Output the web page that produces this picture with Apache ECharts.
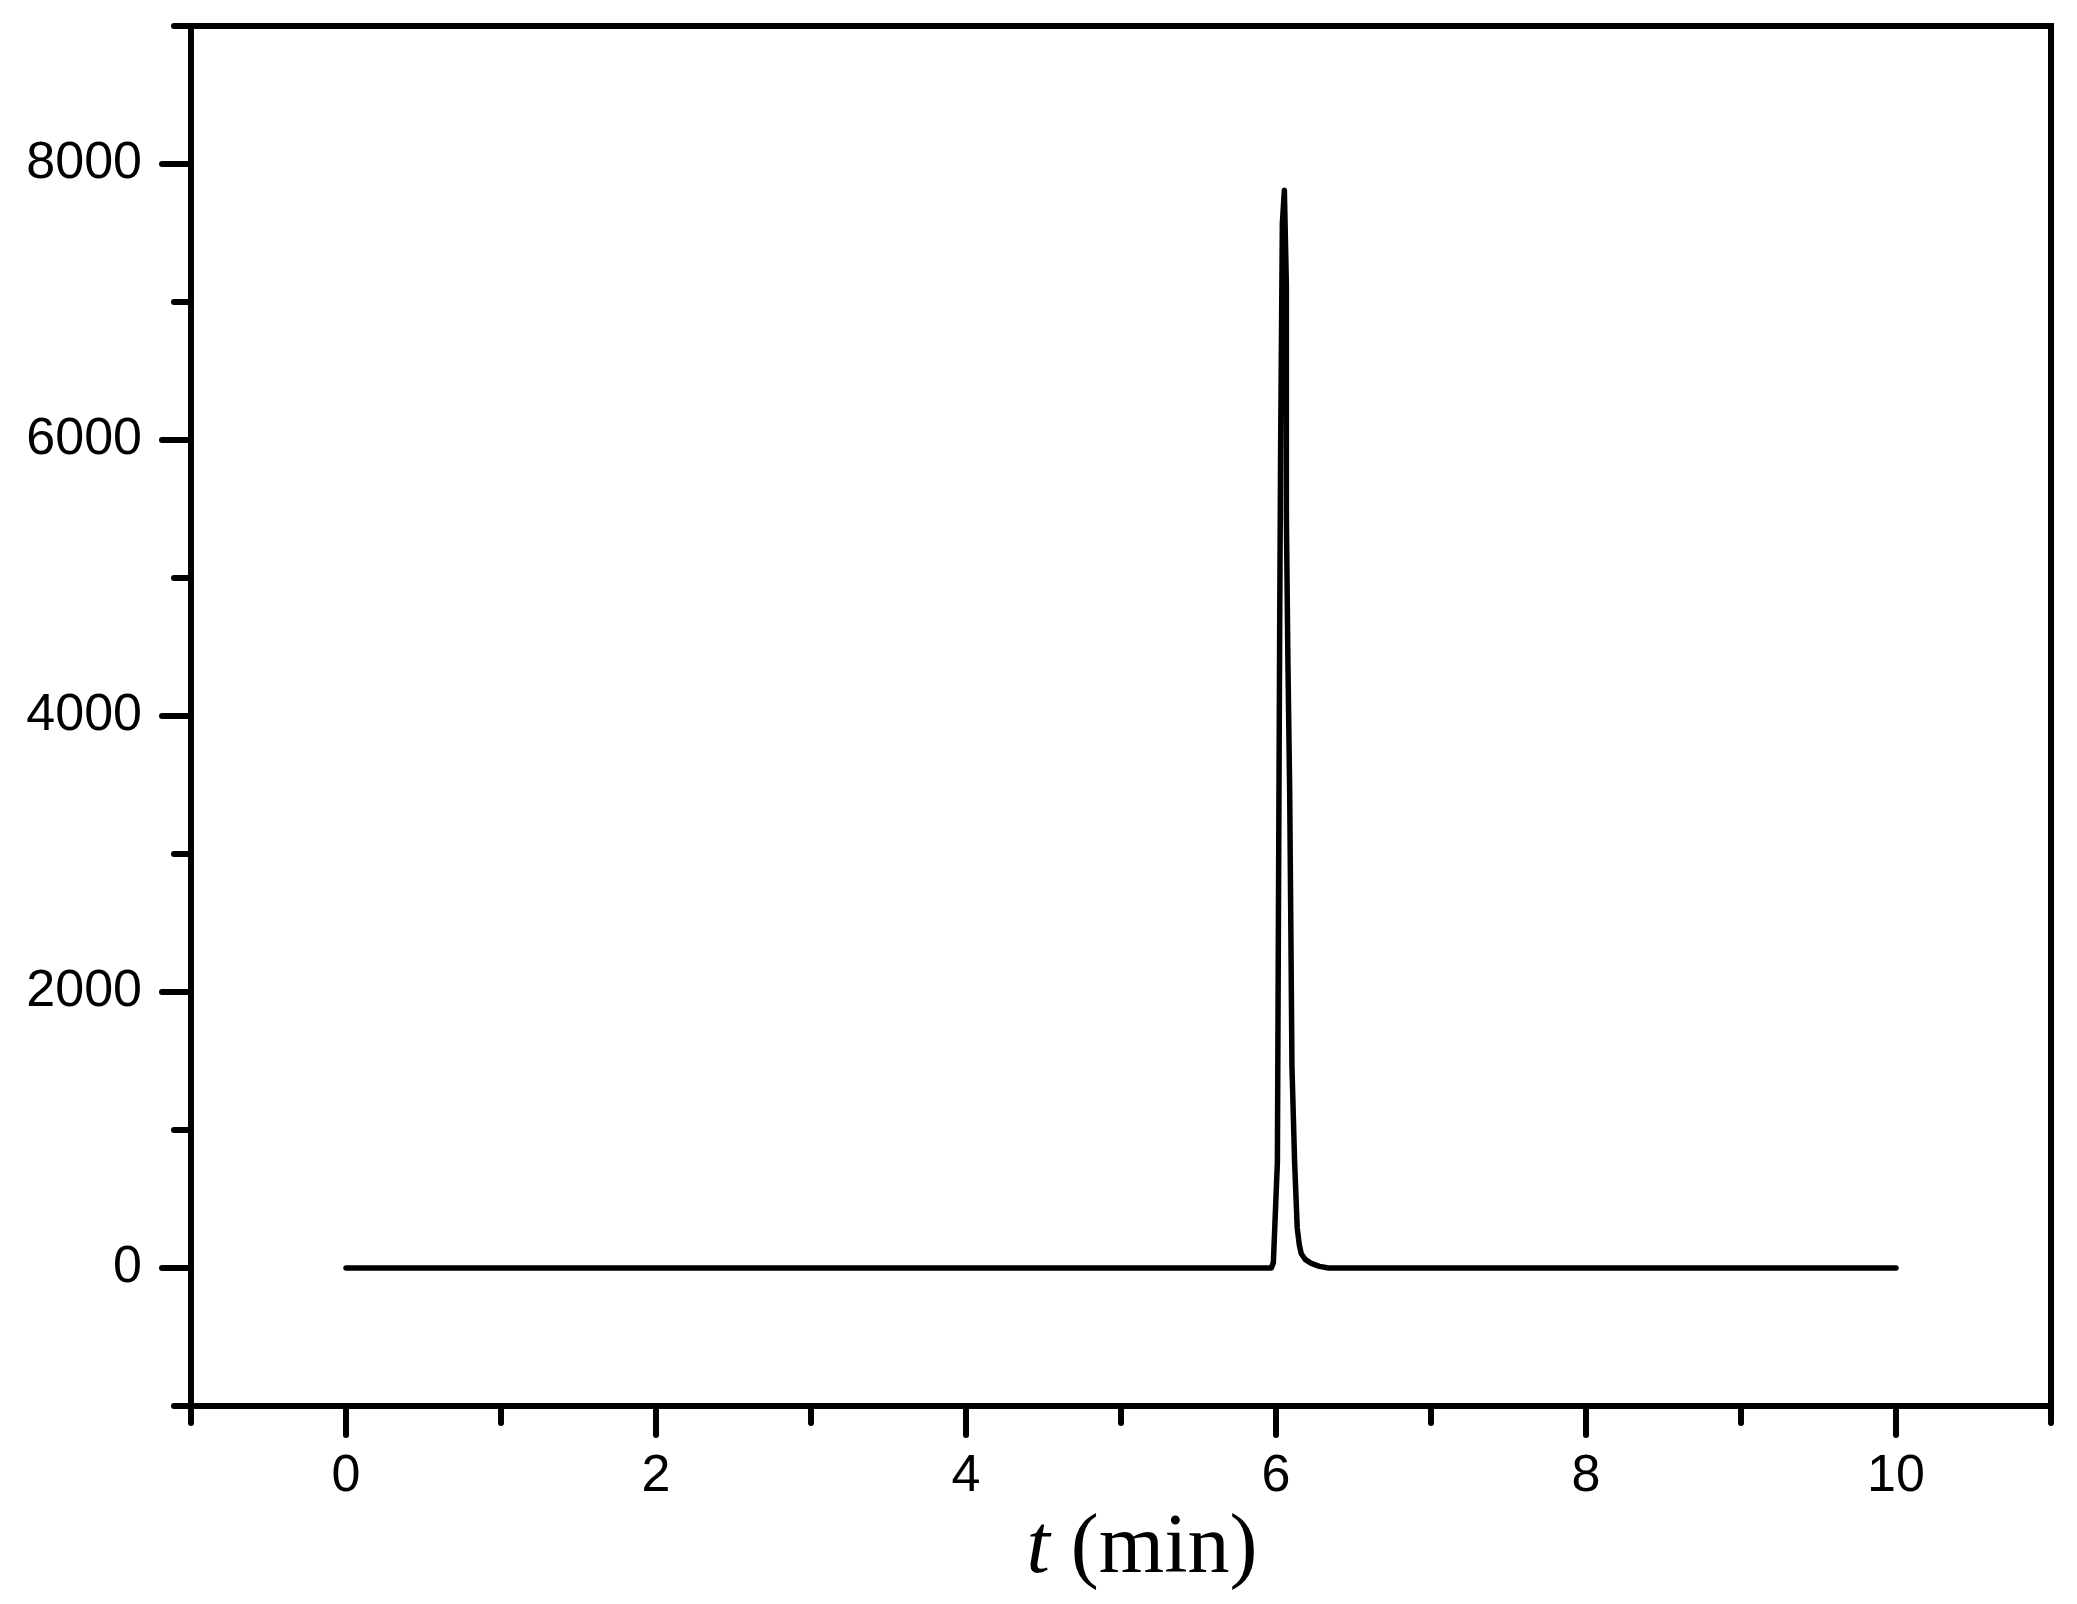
<!DOCTYPE html>
<html>
<head>
<meta charset="utf-8">
<script src="https://cdn.jsdelivr.net/npm/echarts@6/dist/echarts.min.js"></script>
<style>html,body{margin:0;padding:0;background:#fff;}#c{width:2077px;height:1604px;}</style>
</head>
<body>
<div id="c"></div>
<script>
// Time (min) and detector signal
const times  = [0, 5.970, 5.983, 6.009, 6.015, 6.024, 6.030, 6.041, 6.054, 6.067, 6.067, 6.077, 6.088, 6.095, 6.103, 6.120, 6.137, 6.150, 6.163, 6.190, 6.228, 6.280, 6.340, 10];
const signal = [0, 0,     40,    768,   2362,  4700,  5980,  7570,  7810,  7118,  5444,  4381,  3478,  2575,  1458,  768,   290,   170,   103,   60,    34,    12,    0,     0];

const xMajorTicks = [0, 2, 4, 6, 8, 10];
const xMinorTicks = [-1, 1, 3, 5, 7, 9, 11];
const yMajorTicks = [0, 2000, 4000, 6000, 8000];
const yMinorTicks = [-1000, 1000, 3000, 5000, 7000, 9000];

const data = times.map((t, i) => [t, signal[i]]);

const chart = echarts.init(document.getElementById('c'), null, {renderer: 'canvas'});
const labelFont = {fontFamily: 'Liberation Sans, Arial, sans-serif', fontSize: 52, color: '#000'};
const tickStyle = {color: '#000', width: 6, cap: 'round'};

chart.setOption({
  backgroundColor: '#fff',
  animation: false,
  grid: {left: 191, right: 26, top: 26, bottom: 198, show: true, borderColor: '#000', borderWidth: 6, backgroundColor: 'transparent'},
  xAxis: [
    {
      type: 'value', min: -1, max: 11, interval: 1, position: 'bottom',
      axisLine: {show: true, onZero: false, lineStyle: {color: '#000', width: 6}},
      axisTick: {show: true, inside: false, length: 29, customValues: xMajorTicks, lineStyle: tickStyle},
      axisLabel: Object.assign({show: true, margin: 45, customValues: xMajorTicks, formatter: v => String(v)}, labelFont),
      splitLine: {show: false},
      name: '{i|t}{n| (min)}',
      nameLocation: 'middle',
      nameGap: 98,
      nameTextStyle: {
        rich: {
          i: {fontFamily: 'Liberation Serif, Times New Roman, serif', fontStyle: 'italic', fontSize: 84, color: '#000', padding: [0, 0, 0, 42]},
          n: {fontFamily: 'Liberation Serif, Times New Roman, serif', fontSize: 84, color: '#000'}
        }
      }
    },
    {
      type: 'value', min: -1, max: 11, interval: 1, position: 'bottom',
      axisLine: {show: false, onZero: false},
      axisTick: {show: true, inside: false, length: 17, customValues: xMinorTicks, lineStyle: tickStyle},
      axisLabel: {show: false},
      splitLine: {show: false}
    }
  ],
  yAxis: [
    {
      type: 'value', min: -1000, max: 9000, interval: 1000, position: 'left',
      axisLine: {show: true, onZero: false, lineStyle: {color: '#000', width: 6}},
      axisTick: {show: true, inside: false, length: 29, customValues: yMajorTicks, lineStyle: tickStyle},
      axisLabel: Object.assign({show: true, margin: 49, customValues: yMajorTicks, formatter: v => String(v)}, labelFont),
      splitLine: {show: false}
    },
    {
      type: 'value', min: -1000, max: 9000, interval: 1000, position: 'left',
      axisLine: {show: false, onZero: false},
      axisTick: {show: true, inside: false, length: 17, customValues: yMinorTicks, lineStyle: tickStyle},
      axisLabel: {show: false},
      splitLine: {show: false}
    }
  ],
  series: [{
    type: 'line',
    xAxisIndex: 0,
    yAxisIndex: 0,
    data: data,
    showSymbol: false,
    symbol: 'none',
    smooth: false,
    lineStyle: {color: '#000', width: 5.5, join: 'round', cap: 'round'}
  }]
});
</script>
</body>
</html>
